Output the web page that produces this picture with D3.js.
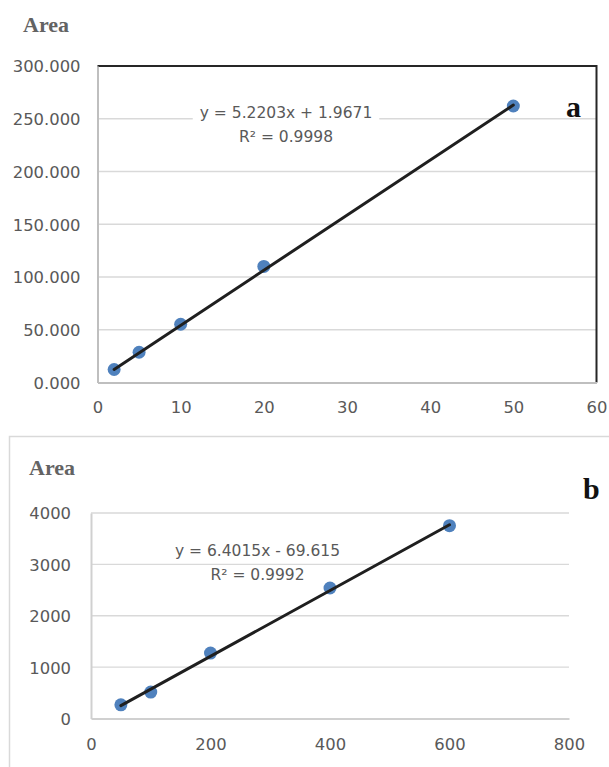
<!DOCTYPE html>
<html>
<head>
<meta charset="utf-8">
<script src="https://cdnjs.cloudflare.com/ajax/libs/d3/7.8.5/d3.min.js"></script>
<style>
  body { margin: 0; background: #fff; }
  .tick text { font-family: "DejaVu Sans", sans-serif; fill: #595959; }
</style>
</head>
<body>
<div id="chart"></div>
<script>
// panel a
var concA = [2, 5, 10, 20, 50];
var areaA = [12.3, 28.7, 55.2, 110.0, 262.1];
var fitA = [5.2203, 1.9671];
var r2A = '0.9998';
var xTicksA = [0, 10, 20, 30, 40, 50, 60];
var yTicksA = [0, 50, 100, 150, 200, 250, 300];

// panel b
var concB = [50, 100, 200, 400, 600];
var areaB = [267, 514, 1274, 2540, 3754];
var fitB = [6.4015, -69.615];
var r2B = '0.9992';
var xTicksB = [0, 200, 400, 600, 800];
var yTicksB = [0, 1000, 2000, 3000, 4000];

var svg = d3.select('#chart')
  .append('svg')
  .attr('width', 609)
  .attr('height', 767);

// outer frame of chart b (runs off the page to the right and bottom)
svg.append('rect')
  .attr('x', 9.5).attr('y', 436.5)
  .attr('width', 640).attr('height', 400)
  .attr('fill', 'none')
  .attr('stroke', '#d9d9d9')
  .attr('stroke-width', 1.5);

function fmtEq(fit) {
  var b = fit[1];
  return 'y = ' + fit[0] + 'x ' + (b < 0 ? '- ' : '+ ') + Math.abs(b);
}

function drawPanel(p) {
  var x = d3.scaleLinear().domain([p.xTicks[0], p.xTicks[p.xTicks.length - 1]]).range([p.left, p.right]);
  var y = d3.scaleLinear().domain([p.yTicks[0], p.yTicks[p.yTicks.length - 1]]).range([p.bottom, p.top]);

  var g = svg.append('g');

  // gridlines
  g.selectAll('.grid')
    .data(p.yTicks.slice(1))
    .enter()
    .append('line')
    .attr('x1', p.left).attr('x2', p.right)
    .attr('y1', function(d) { return y(d); })
    .attr('y2', function(d) { return y(d); })
    .attr('stroke', '#d9d9d9')
    .attr('stroke-width', 1.3);

  if (p.frame) {
    // dark box on top and right side
    g.append('path')
      .attr('d', 'M' + p.left + ',' + p.top + 'H' + p.right + 'V' + p.bottom)
      .attr('fill', 'none')
      .attr('stroke', '#262626')
      .attr('stroke-width', 2);
  }

  // axes
  var yAxis = g.append('g')
    .attr('transform', 'translate(' + p.left + ',0)')
    .call(d3.axisLeft(y).tickValues(p.yTicks).tickSize(0).tickPadding(p.yPad).tickFormat(p.yFmt));
  yAxis.select('.domain').attr('stroke', p.axisColor).attr('stroke-width', 2);
  yAxis.selectAll('text').style('font-size', '16.4px').attr('dy', '0.36em');

  var xAxis = g.append('g')
    .attr('transform', 'translate(0,' + p.bottom + ')')
    .call(d3.axisBottom(x).tickValues(p.xTicks).tickSize(0).tickPadding(p.xPad).tickFormat(d3.format('d')));
  xAxis.select('.domain').attr('stroke', p.axisColor).attr('stroke-width', 2);
  xAxis.selectAll('text').style('font-size', '16.4px');

  // points
  g.selectAll('.pt')
    .data(p.xs)
    .enter()
    .append('circle')
    .attr('cx', function(d) { return x(d); })
    .attr('cy', function(d, i) { return y(p.ys[i]); })
    .attr('r', 6.5)
    .attr('fill', '#4f81bd');

  // trend line
  var ends = d3.extent(p.xs);
  g.append('line')
    .attr('x1', x(ends[0])).attr('y1', y(p.fit[0] * ends[0] + p.fit[1]))
    .attr('x2', x(ends[1])).attr('y2', y(p.fit[0] * ends[1] + p.fit[1]))
    .attr('stroke', '#1f1f1f')
    .attr('stroke-width', 3)
    .attr('stroke-linecap', 'round');

  // equation label
  var lab = g.append('g');
  var t1 = lab.append('text')
    .attr('x', p.eqX).attr('y', p.eqY)
    .attr('text-anchor', 'middle')
    .style('font-family', '"DejaVu Sans", sans-serif')
    .style('font-size', '15.5px')
    .attr('fill', '#595959')
    .text(fmtEq(p.fit));
  var t2 = lab.append('text')
    .attr('x', p.eqX).attr('y', p.eqY + 24.5)
    .attr('text-anchor', 'middle')
    .style('font-family', '"DejaVu Sans", sans-serif')
    .style('font-size', '15.5px')
    .attr('fill', '#595959')
    .text('R\u00b2 = ' + p.r2);
  if (p.eqFill) {
    var bb = t1.node().getBBox();
    lab.insert('rect', 'text')
      .attr('x', bb.x - 7).attr('y', bb.y - 2)
      .attr('width', bb.width + 14).attr('height', 44)
      .attr('fill', '#fff');
  }

  // "Area" title
  g.append('text')
    .attr('x', p.titleX).attr('y', p.titleY)
    .style('font-family', '"Liberation Serif", "Times New Roman", serif')
    .style('font-weight', 'bold')
    .style('font-size', '22px')
    .attr('fill', '#636363')
    .text('Area');

  // panel letter
  g.append('text')
    .attr('x', p.letterX).attr('y', p.letterY)
    .style('font-family', '"Liberation Serif", "Times New Roman", serif')
    .style('font-weight', 'bold')
    .style('font-size', '30px')
    .attr('fill', '#111')
    .text(p.letter);
}

drawPanel({
  xs: concA, ys: areaA, fit: fitA, r2: r2A,
  xTicks: xTicksA, yTicks: yTicksA, yFmt: d3.format('.3f'),
  left: 97.5, right: 596.5, top: 66, bottom: 382.5,
  yPad: 17, xPad: 19, axisColor: '#bfbfbf', frame: true,
  eqX: 286, eqY: 117.5, eqFill: true,
  titleX: 23, titleY: 32,
  letter: 'a', letterX: 566, letterY: 117
});

drawPanel({
  xs: concB, ys: areaB, fit: fitB, r2: r2B,
  xTicks: xTicksB, yTicks: yTicksB, yFmt: d3.format('d'),
  left: 91, right: 569, top: 513, bottom: 718.5,
  yPad: 20, xPad: 20, axisColor: '#d0d0d0', frame: false,
  eqX: 257.5, eqY: 555.5, eqFill: false,
  titleX: 29, titleY: 475,
  letter: 'b', letterX: 583, letterY: 499
});
</script>
</body>
</html>
